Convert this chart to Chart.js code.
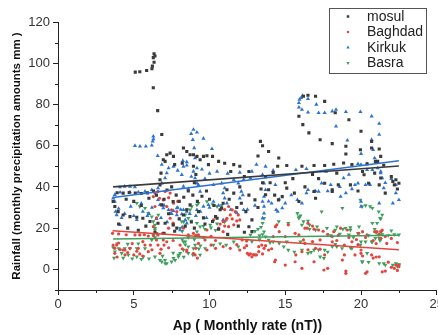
<!DOCTYPE html>
<html>
<head>
<meta charset="utf-8">
<script src="https://cdn.jsdelivr.net/npm/chart.js@4.4.1/dist/chart.umd.min.js"></script>
<style>
  html, body { margin: 0; padding: 0; background: #fff; overflow: hidden; }
  #wrap { width: 446px; height: 335px; }
</style>
</head>
<body>
<div id="wrap"><canvas id="chart" width="446" height="335"></canvas></div>
<script>
// --- data ---
const seriesNames = ["mosul", "Baghdad", "Kirkuk", "Basra"];
const xTickLabels = ["0", "5", "10", "15", "20", "25"];
const yTickLabels = ["0", "20", "40", "60", "80", "100", "120"];

const mosulAp = [5.1,5.4,5.85,6.2,6.23,6.34,6.29,6.34,6.4,6.29,6.58,6.85,
  6.95,7.18,7.4,7.62,8.28,8.5,8.72,8.94,9.17,9.38,9.6,9.83,10.2,10.6,
  7.07,7.7,6.8,6.73,6.73,8.94,9.1,9.0,9.93,11.6,12.0,12.6,11.4,11.0,
  3.9,4.3,4.7,5.1,5.5,5.9,
  3.64,3.75,3.97,4.3,4.75,5.2,5.6,6.07,6.6,7.07,7.6,7.84,
  6.85,7.0,7.6,8.28,8.5,8.72,9.27,10.5,
  10.2,10.4,10.7,10.9,11.15,11.6,10.8,12.1,12.6,12.8,12.8,13.0,13.7,13.9,13.7,13.5,
  13.36,13.5,13.9,14.57,15.1,14.5,
  15.1,14.55,14.8,15.9,16.1,16.9,17.6,18.2,18.85,19.4,17.0,16.9,18.1,17.6,18.4,18.1,18.5,19.3,15.5,16.8,
  16.2,16.5,17.0,17.6,15.9,16.16,16.56,17.3,18.1,19.0,19.2,20.0,20.7,20.7,21.2,21.3,20.95,19.96,19.0,18.3,
  20.4,21.1,20.2,20.9,21.3,22.2,22.5,22.1,20.5,21.2,20.1,22.3,21.5,22.0,
  8.2,12.3,13.2,14.2,
  4.5,5.0,5.5,6.0,6.3,6.5,7.2,7.5,7.8,8.0,8.3,8.6,8.9,9.2,9.5,9.8,10.0,10.3,7.3,8.0,
  8.8,9.6,11.3,11.8,12.4,12.0,12.6,13.2,13.4,14.0,14.3,15.0,15.6,16.3,17.2,19.8,21.6,22.4,
  4.0,4.6,5.3,5.8,6.4,7.0,7.7,8.4,9.0,9.7,10.6,11.2,11.9,12.3];
const mosulRain = [95.7,95.9,96.5,97.3,98.6,100.5,102.7,104.6,103.5,88.1,77,65.4,
  53.2,55.6,56.4,54.8,58.9,57.2,55.6,55.6,54.8,53.2,54.8,55.1,54.8,52.4,
  52.4,50.8,46.7,43.5,41,50,46,42,50.8,50.8,50,47.5,47.5,51.5,
  37.2,37,37.3,37,36.8,37.1,
  32.9,30.5,28,26.4,25.6,25.3,24.8,23.2,22.4,22.4,21.6,20,
  31.3,34,32.9,26.4,28.9,31.3,28,24.8,
  23.2,25.6,28.9,32.1,38.6,37,29.7,32.1,20.7,18.3,24,33.7,36.2,38.6,45,42,
  62.1,60,57.2,54,50.4,50,
  39.4,33.7,35.3,32.9,50,50.4,50.4,51,51.6,50.8,34.5,37.8,38.6,41.8,46.7,37.8,41,41,44,46,
  84,84.5,84,81.5,74.3,70.2,66.2,62.9,61,59.7,72.6,67,62,58.9,58.4,54.8,52.4,58,56,76,
  51.2,52.4,45.9,46.7,44.3,41,41.8,42.6,41.8,41,47.5,43.5,50.5,45,
  51.5,45,55,47,
  34,33,31,34.5,38,36,38.5,40,36,33,35,38,36,33,35.5,38,34,31,27,24.5,
  23,25,34,30,28,40,36,30,39,42,36,42,37,40,44,38,37,39,
  22,20,19,21,18,17.5,18.5,21,20,22,19.5,17,21,18];

const baghdadAp = [6.4,6.6,7.07,7.4,6.29,6.7,6.95,7.3,7.62,7.9,6.85,7.18,7.5,7.84,6.4,6.29,6.5,
  5.08,5.4,5.7,5.96,6.3,6.6,6.9,6.95,3.75,3.64,4.1,4.42,4.75,5.3,5.74,6.1,5.96,5.4,6.6,7.0,7.18,7.6,4.42,5.0,3.75,
  7.4,7.6,7.3,7.62,8.28,3.6,4.0,4.5,8.94,9.27,9.6,3.87,4.3,6.73,8.06,8.5,8.94,9.1,9.27,9.7,10.1,10.4,6.5,
  11.26,11.5,11.7,11.9,11.0,11.37,11.15,10.9,10.7,10.6,10.9,11.26,11.6,11.8,10.26,9.83,8.6,9.1,9.83,10.1,
  10.4,10.9,11.37,11.8,12.0,12.3,12.5,12.6,12.8,12.9,9.05,9.2,8.5,8.2,
  12.15,12.45,13.25,13.6,13.7,13.25,13.1,13.5,13.9,14.1,14.35,14.6,14.2,15.0,15.9,16.45,16.9,16.3,16.8,17.3,
  15.7,16.9,17.55,15.0,14.35,16.1,11.1,11.5,12.0,11.0,12.7,13.0,13.45,12.45,
  14.44,15.2,15.65,16.3,16.5,16.8,17.2,17.5,18.1,17.0,17.3,17.6,17.8,19.0,20.3,21.4,22.2,22.4,22.5,22.3,
  20.0,20.1,20.7,20.8,19.6,19.4,19.85,20.4,21.06,21.4,21.3,21.7,15.65,16.1,16.5,16.2,14.3,
  18.2,18.65,19.1,20.1,20.9,21.3,21.2,18.1,18.9,20.0,18.9,21.2,21.0,18.77,19.0,20.4,21.6,22.5,22.0,21.8,
  17.8,18.5,19.2,19.7,20.3,20.8,21.6,22.0,22.4,18.4,21.0,19.8,
  3.9,4.6,5.2,5.6,6.2,6.8,7.3,4.0,4.9,5.6];
const baghdadRain = [37,37.8,37.8,37,35.3,34.5,33.7,34.8,32.1,33,31.3,30.5,28.9,28,30.5,20.7,25,
  16.7,16.7,16.8,16.2,16.4,16.7,17.5,14.3,10.2,11.8,9.6,9.4,10.2,10.2,11.8,11.8,8.6,7.5,11.8,11.8,13.4,14,7,7,7.8,
  24.8,22.5,20,21.6,20,17.5,17.2,16.8,17.5,16.7,15.5,11.8,9.4,7.8,11.8,9.4,7.8,10.2,12.6,14.3,16,14,14.3,
  30.5,28.9,28,26.4,29,26.4,24.8,23.2,22,20,18.3,20.7,21.6,23.5,24,19.1,16.7,16.5,9.4,11.8,
  10.2,11,10.2,12,9.4,10.5,7.8,7,6.1,7.2,7,5.5,8.6,10,
  14.3,13.8,11,10.2,11.5,8.6,7,7.5,9.4,10,20.7,18.3,15.9,15.9,16.7,20,19.5,12.6,13.5,14.3,
  7,3.7,-0.3,2.1,4.5,0.5,24,24.5,24,21,7.5,7,11.8,11.5,
  21.6,21.6,17.5,20,22.4,21,19.1,18.5,15.9,10.2,9.8,7,0.5,-1.9,-1.9,-1.2,0.5,-0.5,1.3,2.1,
  7.8,6.5,7,5.5,7,13.4,17.5,16.7,18.3,19.1,15,12.6,3.7,8.6,9.5,14.3,3.7,
  18.3,20,19.1,18.3,18.3,18.3,17,13.4,11.8,9.4,7,6.1,6,4.5,-0.8,-1.2,-0.8,2.1,1,3.5,
  17,16.5,15.5,14.5,15.5,14,16,15,13,14,12.5,12,
  6,8.2,8.8,6.5,9.5,9.8,10.5,12.8,12.5,13.5];

const kirkukAp = [5.08,5.41,5.8,6.19,6.25,6.29,6.3,6.58,6.85,
  8.94,9.17,8.79,8.9,9.6,8.99,10.16,9.05,8.24,8.5,
  15.94,15.9,16.05,16.14,16.5,17.05,15.9,16.1,16.5,17.2,17.6,18.1,18.35,19.0,19.96,20.7,21.2,21.2,18.35,19.1,20.7,20.8,20.0,20.4,19.8,20.9,
  4.09,4.4,4.75,5.08,3.75,3.64,3.75,4.1,4.75,5.3,5.74,6.19,6.6,6.85,7.07,7.18,7.3,7.62,
  3.87,4.09,6.6,6.73,6.95,7.3,7.62,7.84,7.4,7.84,8.17,8.5,8.06,8.2,
  8.94,9.05,9.17,9.17,7.9,8.17,8.28,8.5,9.27,8.28,8.6,9.38,10.26,10.8,11.0,10.9,11.0,11.15,11.6,11.9,
  12.25,12.7,12.1,12.2,12.0,12.25,10.26,9.93,9.6,9.17,8.28,8.5,
  13.1,13.7,13.5,13.6,13.7,13.6,13.5,13.6,13.6,13.5,14.5,14.8,15.0,16.1,15.8,16.9,17.2,17.4,14.35,15.7,16.4,17.7,14.2,18.0,19.6,
  20.75,21.1,21.3,21.4,20.0,20.4,21.5,18.65,20.0,20.0,21.2,22.1,22.5,22.3,19.8,16.5,18.85,21.3,20.3,14.4,
  10.0,9.5,10.5,11.2,12.0,8.8,9.7,12.8,22.0,19.2,
  4.4,5.0,5.6,6.2,7.0,7.9,8.7,9.4,10.0,10.6,11.4,12.5,4.0,4.8,5.5,6.0,8.1,9.8,10.9,11.8,3.8,6.5,
  4.2,5.2,5.9,6.8,7.5,8.4,9.1,7.2,
  13.0,13.9,14.6,15.4,16.4,17.0,17.8,18.6,19.4,20.6,21.6,22.3,14.1,19.0];
const kirkukRain = [60,59.7,59.7,60.2,62.1,64.5,63.2,55.1,50.8,
  67.8,66.5,65.8,62.9,63.5,58.9,58.5,54,52.7,52.1,
  82.4,80.8,83.2,84.3,82.7,80,78.6,77.5,76.2,75.9,75.9,76.7,77.5,76.4,76.4,74.3,70.7,65.4,69.4,62.6,62.9,58,56.1,51.2,51.2,54,
  39.9,40.2,40.2,39.9,36.2,34.5,32.9,37.4,37.5,37.5,37.8,38.6,39.4,41.8,44.3,46.7,49.1,49.9,
  26.4,21.6,33.7,31.3,29.7,28.9,28.4,29.7,27.2,26.4,26.8,28,19.1,20.5,
  47.5,44.3,41.8,49.1,48,45.9,49.9,50.5,41,40.2,39,37.8,41,41.8,39.4,37,34.5,32.1,43.5,41.8,
  43.5,44.3,37.8,36,34.5,28.9,32.9,31.3,30.5,28.9,28.9,22.4,
  50.8,49.9,45.9,41.8,38.6,35.3,32.9,30.5,27.2,24.8,28,29.7,32.1,32.1,33.7,37.8,37.8,41.8,41,48.3,48.8,47.5,48,41,41,
  48.3,49.1,46.7,44.3,50.8,48.3,39.4,35.3,32.9,30.5,32.1,32.1,33.7,37,41.8,38.6,44.3,47.5,41,28.9,
  46.5,48.5,47.5,46.5,47,45,44,47.5,44,46,
  27,26,28,30,31,30,27,28,30,31,29,29,29.5,30.5,32,27,29,25,24,27.5,28,24.5,
  25,24,26,25,27,24,26,23,
  31,33,34,36,37,38,38,40,39,41,42,41,32,37];

const basraAp = [5.2,5.4,5.74,5.96,6.19,6.29,6.4,6.4,6.29,6.19,
  3.64,4.0,4.4,4.75,5.2,5.74,3.75,4.2,4.64,5.2,5.63,6.4,6.73,7.07,7.18,7.5,7.73,7.95,6.85,7.07,
  7.62,7.95,8.28,8.6,8.4,8.2,8.6,9.0,9.05,9.3,9.17,9.38,9.7,10.1,10.4,8.6,8.9,9.38,
  6.62,6.4,6.5,6.4,8.5,8.83,9.17,8.17,9.27,9.83,10.2,10.5,10.8,8.72,8.4,8.6,8.3,8.8,9.17,9.6,10.05,10.5,11.0,
  8.06,8.2,8.28,8.4,8.94,9.4,9.71,10.26,10.7,11.1,11.6,11.9,12.5,12.8,12.7,13.0,8.06,8.3,
  13.6,13.5,13.4,13.6,13.5,13.7,13.9,14.0,13.3,13.3,13.2,14.2,14.6,14.9,15.2,15.6,16.1,15.8,15.9,16.2,
  16.0,16.5,14.57,15.2,15.1,16.0,17.0,17.1,17.4,16.6,16.7,17.3,16.9,17.55,15.9,16.1,16.6,17.75,18.1,18.3,
  18.75,19.3,19.96,20.3,20.7,20.95,21.17,21.35,21.4,21.3,17.6,17.8,17.2,16.5,
  19.96,20.07,20.6,21.17,21.4,21.3,21.06,18.97,18.4,19.3,20.07,20.5,21.2,21.6,22.3,22.5,22.1,22.4,
  18.77,20.3,20.75,21.26,20.75,19.87,19.3,18.3,18.8,21.2,21.25,20.75,20.0,18.4,19.4,20.4,20.1,21.5,22.5,
  18.0,18.6,19.2,19.8,20.5,21.0,21.8,22.2,22.5,19.5,20.9,22.0,
  3.7,4.3,4.9,5.5,6.0,3.9,4.6,5.3,6.9,7.6];
const basraRain = [32.1,30.5,29.7,27.2,25.6,23.2,21.6,19.1,16.7,14.3,
  10.7,10.2,10.2,10.2,10.2,10.2,8.6,7.8,7,6.1,6.1,6.1,4.5,4.5,2.9,3.7,4.5,6.1,3.7,2.9,
  5.4,7,9.4,11,13.4,14.5,15.5,14.5,11.8,10,18.3,20.7,19.5,20.2,19,7.8,7,7,
  26.4,20,17.5,15.5,28.9,30.5,31.3,23.2,32.1,32.9,31.5,30.5,31,28.9,26.5,24.8,23,23.5,22.4,21,21.6,22.2,23,
  20,18.5,13.4,12,10.2,11.5,10.2,11.8,12.5,11.8,13.4,11,14.3,13.5,16.7,18.5,7.8,6,
  24.8,22.4,20.5,18.3,17,15.9,14.3,13,14.5,16.5,19.5,13.4,12.6,11,9.4,8.5,9.4,27.2,24.8,23.2,
  26,23.5,23.2,22.4,13.4,13.4,19.1,20.7,28,19.5,8.3,6.1,9.4,5.4,25.6,21.6,21.5,20,11,12.2,
  10.2,10.5,11.8,13.4,13.4,15.1,16.7,18.3,17,14.5,9.4,8.5,9.5,7.8,
  33.7,30.5,30.5,28,26.4,24.5,22.4,20,20.7,20.3,3.7,3.5,2.9,2.1,2.9,2.4,2.1,1.5,
  29.7,31,29.7,24.8,22.4,20.7,19.1,19.1,19.5,15.1,14,13.4,13.4,11,10.2,7.8,3.7,2.9,2.1,
  16.5,17.2,16.8,17.5,16.5,17.8,16.5,17,16.8,15.5,19.5,18.8,
  5.5,5.5,5.2,5.0,5.2,12.5,12.3,12.5,6.5,8];

const seriesColors = ["#3a3a3a", "#e2453d", "#2d72d2", "#3d9f5c"];

// --- helpers ---
function toPoints(xs, ys) {
  const n = Math.min(xs.length, ys.length);
  const pts = [];
  for (let i = 0; i < n; i++) pts.push({ x: xs[i], y: ys[i] });
  return pts;
}

// least squares line over the range of the data
function linearFit(xs, ys) {
  const n = Math.min(xs.length, ys.length);
  let sx = 0, sy = 0, sxx = 0, sxy = 0;
  for (let i = 0; i < n; i++) {
    sx += xs[i]; sy += ys[i]; sxx += xs[i] * xs[i]; sxy += xs[i] * ys[i];
  }
  const slope = (n * sxy - sx * sy) / (n * sxx - sx * sx);
  const icpt = (sy - slope * sx) / n;
  const x0 = Math.min(...xs.slice(0, n)), x1 = Math.max(...xs.slice(0, n));
  return [{ x: x0, y: icpt + slope * x0 }, { x: x1, y: icpt + slope * x1 }];
}

const seriesData = [
  [mosulAp, mosulRain],
  [baghdadAp, baghdadRain],
  [kirkukAp, kirkukRain],
  [basraAp, basraRain]
];
const pointStyles = [
  { style: "rect", radius: 2.2, rotation: 0 },
  { style: "circle", radius: 1.6, rotation: 0 },
  { style: "triangle", radius: 2.4, rotation: 0 },
  { style: "triangle", radius: 2.4, rotation: 180 }
];

const datasets = [];
seriesData.forEach((s, i) => {
  datasets.push({
    type: "scatter",
    label: seriesNames[i],
    data: toPoints(s[0], s[1]),
    pointStyle: pointStyles[i].style,
    pointRadius: pointStyles[i].radius,
    rotation: pointStyles[i].rotation,
    pointBorderWidth: 0,
    backgroundColor: seriesColors[i],
    borderColor: seriesColors[i],
    order: 2
  });
});
seriesData.forEach((s, i) => {
  datasets.push({
    type: "line",
    label: seriesNames[i] + " fit",
    data: linearFit(s[0], s[1]),
    borderColor: seriesColors[i],
    borderWidth: 1.6,
    pointRadius: 0,
    fill: false,
    order: 1
  });
});

const FONT = "'Liberation Sans', Arial, sans-serif";

// minor ticks + boxed legend
const extras = {
  id: "extras",
  afterDraw(chart) {
    const { ctx } = chart;
    const xs = chart.scales.x, ys = chart.scales.y;
    ctx.save();
    ctx.strokeStyle = "#222";
    ctx.lineWidth = 1;
    xs.ticks.forEach(t => {
      if (xTickLabels.includes(String(t.value))) return;
      const px = Math.round(xs.getPixelForValue(t.value)) + 0.5;
      ctx.beginPath(); ctx.moveTo(px, xs.top); ctx.lineTo(px, xs.top + 3); ctx.stroke();
    });
    ys.ticks.forEach(t => {
      if (yTickLabels.includes(String(t.value))) return;
      const py = Math.round(ys.getPixelForValue(t.value)) + 0.5;
      ctx.beginPath(); ctx.moveTo(ys.right - 3, py); ctx.lineTo(ys.right, py); ctx.stroke();
    });

    // legend box
    const bx = 329.5, by = 8.5, bw = 97, bh = 65;
    ctx.fillStyle = "#fff";
    ctx.fillRect(bx, by, bw, bh);
    ctx.strokeStyle = "#555";
    ctx.strokeRect(bx, by, bw, bh);
    ctx.font = "14px " + FONT;
    ctx.textBaseline = "middle";
    ctx.textAlign = "left";
    seriesNames.forEach((name, i) => {
      const cy = 16.5 + i * 15.5;
      ctx.fillStyle = seriesColors[i];
      Chart.helpers.drawPoint(ctx, {
        pointStyle: pointStyles[i].style,
        radius: pointStyles[i].radius * 0.8,
        rotation: pointStyles[i].rotation,
        borderWidth: 0
      }, 348, cy);
      ctx.fillStyle = "#222";
      ctx.fillText(name, 367, cy + 0.5);
    });
    ctx.restore();
  }
};

new Chart(document.getElementById("chart"), {
  data: { datasets: datasets },
  options: {
    responsive: false,
    animation: false,
    devicePixelRatio: 1,
    layout: { padding: { top: 22, right: 1, left: 0, bottom: 0 } },
    plugins: { legend: { display: false }, tooltip: { enabled: false } },
    scales: {
      x: {
        type: "linear",
        min: 0, max: 25,
        afterFit: s => { s.height = 45; },
        ticks: {
          stepSize: 2.5,
          autoSkip: false,
          maxRotation: 0,
          padding: 2,
          color: "#333",
          font: { size: 13, family: FONT },
          callback: v => xTickLabels.includes(String(v)) ? String(v) : ""
        },
        grid: {
          drawOnChartArea: false,
          tickLength: 5,
          tickColor: c => xTickLabels.includes(String(c.tick.value)) ? "#222" : "rgba(0,0,0,0)"
        },
        border: { color: "#222", width: 1 },
        title: {
          display: true,
          text: "Ap ( Monthly rate (nT))",
          color: "#111",
          font: { size: 14, weight: "bold", family: FONT },
          padding: { top: 0, bottom: 0 }
        }
      },
      y: {
        type: "linear",
        min: -10, max: 120,
        afterFit: s => { s.width = 58; },
        ticks: {
          stepSize: 10,
          autoSkip: false,
          padding: 3,
          color: "#333",
          font: { size: 13, family: FONT },
          callback: v => yTickLabels.includes(String(v)) ? String(v) : ""
        },
        grid: {
          drawOnChartArea: false,
          tickLength: 5,
          tickColor: c => yTickLabels.includes(String(c.tick.value)) ? "#222" : "rgba(0,0,0,0)"
        },
        border: { color: "#222", width: 1 },
        title: {
          display: true,
          text: "Rainfall (monthly precipitation amounts mm )",
          color: "#111",
          font: { size: 11.5, weight: "bold", family: FONT },
          padding: { top: 10, bottom: 0 }
        }
      }
    }
  },
  plugins: [extras]
});
</script>
</body>
</html>
